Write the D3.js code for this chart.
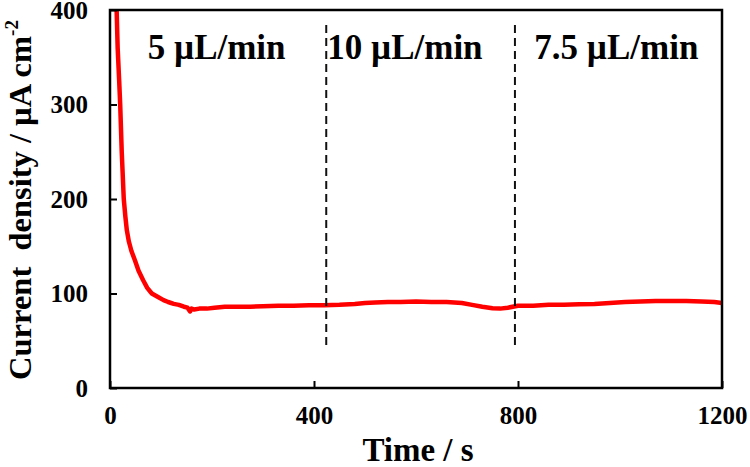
<!DOCTYPE html>
<html>
<head>
<meta charset="utf-8">
<script src="https://cdn.jsdelivr.net/npm/d3@7"></script>
<style>
  body { margin: 0; background: #fff; }
  text { font-family: "Liberation Serif", "Times New Roman", serif; font-weight: bold; fill: #000; }
</style>
</head>
<body>
<svg id="chart" width="750" height="467"></svg>
<script>
/* ------------------ data ------------------ */

const times = [12, 15, 18, 20, 23, 27, 30, 33, 37, 42, 49, 56, 65, 73, 82, 95, 105, 114, 125, 135, 145, 152, 157, 160, 165, 175, 190, 205, 225, 250, 275, 300, 330, 360, 390, 420, 450, 480, 500, 520, 545, 570, 600, 630, 660, 690, 710, 730, 750, 765, 780, 800, 830, 860, 890, 920, 950, 980, 1010, 1040, 1070, 1100, 1130, 1160, 1185, 1200];
const current = [420, 360, 325, 300, 250, 200, 182, 167, 155, 145, 135, 124, 114, 106, 100, 96, 93, 91, 89, 88, 86, 85, 81, 84, 83, 84, 84, 85, 86, 86, 86, 86.5, 87, 87, 87.5, 87.5, 88, 89, 90, 90.5, 91, 91, 91.5, 91, 91, 90, 88, 86, 84.5, 84, 85, 87, 87, 88, 88, 88.5, 89, 90, 91, 91.5, 92, 92, 92, 91.5, 91, 90];

const xTicks = [0, 400, 800, 1200];
const yTicks = [0, 100, 200, 300, 400];

// flow-rate switch times and the labels of each segment
const switchTimes = [424, 794];
const dividerRange = [42, 384];
const flowLabels = ["5 \u00b5L/min", "10 \u00b5L/min", "7.5 \u00b5L/min"];
const labelStartTimes = [74, 426, 832];
const labelLevel = 348;

/* ------------------ layout ------------------ */

const MARGIN = { top: 10, left: 110, right: 28, bottom: 79 };
const width = 750, height = 467;

const svg = d3.select("#chart");

const x = d3.scaleLinear().domain([0, 1200]).range([MARGIN.left, width - MARGIN.right]);
const y = d3.scaleLinear().domain([0, 400]).range([height - MARGIN.bottom, MARGIN.top]);

svg.append("defs").append("clipPath").attr("id", "plot")
  .append("rect")
  .attr("x", x(0)).attr("y", y(400))
  .attr("width", x(1200) - x(0)).attr("height", y(0) - y(400));

/* ---- trace ---- */

const points = times.map((t, i) => [t, current[i]]);

svg.append("path")
  .datum(points)
  .attr("clip-path", "url(#plot)")
  .attr("fill", "none")
  .attr("stroke", "#ff0000")
  .attr("stroke-width", 4.5)
  .attr("stroke-linejoin", "round")
  .attr("d", d3.line().x(d => x(d[0])).y(d => y(d[1])));

/* ---- dividers ---- */

svg.selectAll("line.divider")
  .data(switchTimes)
  .join("line")
  .attr("class", "divider")
  .attr("x1", d => x(d)).attr("x2", d => x(d))
  .attr("y1", y(dividerRange[1])).attr("y2", y(dividerRange[0]))
  .attr("stroke", "#111")
  .attr("stroke-width", 2)
  .attr("stroke-dasharray", "8,5");

svg.selectAll("text.flow")
  .data(flowLabels)
  .join("text")
  .attr("class", "flow")
  .attr("x", (d, i) => x(labelStartTimes[i]))
  .attr("y", y(labelLevel))
  .attr("font-size", 35)
  .text(d => d);

/* ---- axes ---- */

const xAxis = svg.append("g")
  .attr("transform", `translate(0,${y(0)})`)
  .call(d3.axisBottom(x).tickValues(xTicks).tickFormat(d3.format("d"))
    .tickSizeInner(-7).tickSizeOuter(0).tickPadding(18));

const yAxis = svg.append("g")
  .attr("transform", `translate(${x(0)},0)`)
  .call(d3.axisLeft(y).tickValues(yTicks).tickFormat(d3.format("d"))
    .tickSizeInner(-7).tickSizeOuter(0).tickPadding(22));

[xAxis, yAxis].forEach(g => {
  g.select(".domain").remove();
  g.selectAll("line").attr("stroke", "#000").attr("stroke-width", 2);
  g.selectAll("text")
    .attr("font-size", 25)
    .attr("font-family", "Liberation Serif, serif")
    .attr("font-weight", "bold")
    .attr("fill", "#000");
});

// frame
svg.append("rect")
  .attr("x", x(0)).attr("y", y(400))
  .attr("width", x(1200) - x(0)).attr("height", y(0) - y(400))
  .attr("fill", "none")
  .attr("stroke", "#000")
  .attr("stroke-width", 2.5);

/* ---- titles ---- */

svg.append("text")
  .attr("x", (x(0) + x(1200)) / 2 + 2)
  .attr("y", 461)
  .attr("text-anchor", "middle")
  .attr("font-size", 33)
  .text("Time / s");

const yTitle = svg.append("text")
  .attr("transform", `translate(31,200) rotate(-90)`)
  .attr("text-anchor", "middle")
  .attr("font-size", 32.5)
  .attr("xml:space", "preserve");

yTitle.append("tspan").text("Current  density / \u00b5A cm");
yTitle.append("tspan").attr("font-size", 19).attr("dy", -13).text("-2");
</script>
</body>
</html>
